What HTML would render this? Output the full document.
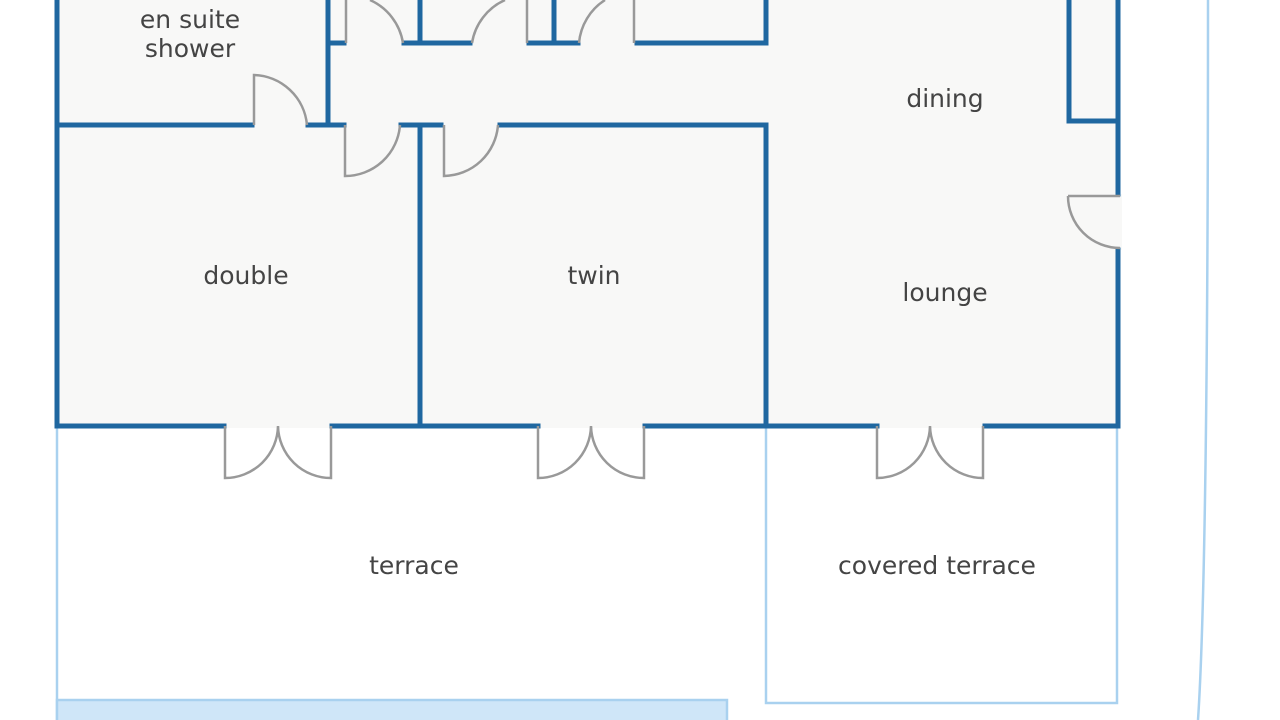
<!DOCTYPE html>
<html><head><meta charset="utf-8"><style>
html,body{margin:0;padding:0;background:#fff;}
svg{display:block;}
text{font-family:"DejaVu Sans","Liberation Sans",sans-serif;font-size:25px;fill:#444;text-anchor:middle;}
</style></head><body>
<svg width="1280" height="720" viewBox="0 0 1280 720" xmlns="http://www.w3.org/2000/svg">
<rect x="0" y="0" width="1280" height="720" fill="#fff"/>
<!-- house interior fill -->
<rect x="57" y="0" width="1061" height="428" fill="#f8f8f7"/>
<rect x="1118" y="194" width="4" height="56" fill="#f8f8f7"/>
<!-- terraces -->
<g fill="none" stroke="#a9d1ef" stroke-width="2.5">
<line x1="57" y1="428" x2="57" y2="720"/>
<polyline points="766,428 766,703 1117,703 1117,428"/>
<path d="M1208 0 C1208 300 1206 600 1198 720"/>
</g>
<rect x="57" y="700" width="670" height="22" fill="#cfe6f8" stroke="#a9d1ef" stroke-width="2.5"/>
<!-- walls -->
<g stroke="#1f67a0" stroke-width="5" fill="none" stroke-linecap="square">
<line x1="57" y1="0" x2="57" y2="426"/>
<line x1="57" y1="426" x2="224" y2="426"/>
<line x1="332" y1="426" x2="538" y2="426"/>
<line x1="645" y1="426" x2="877" y2="426"/>
<line x1="985" y1="426" x2="1118" y2="426"/>
<line x1="1118" y1="0" x2="1118" y2="194"/>
<line x1="1118" y1="250" x2="1118" y2="426"/>
<polyline points="1069,0 1069,121 1116,121"/>
<line x1="57" y1="125" x2="252" y2="125"/>
<line x1="308" y1="125" x2="344" y2="125"/>
<line x1="328" y1="0" x2="328" y2="125"/>
<line x1="328" y1="43" x2="344" y2="43"/>
<line x1="404" y1="43" x2="470" y2="43"/>
<line x1="420" y1="0" x2="420" y2="43"/>
<line x1="529" y1="43" x2="578" y2="43"/>
<line x1="554" y1="0" x2="554" y2="43"/>
<line x1="637" y1="43" x2="766" y2="43"/>
<line x1="766" y1="0" x2="766" y2="43"/>
<line x1="401" y1="125" x2="441" y2="125"/>
<line x1="420" y1="125" x2="420" y2="426"/>
<line x1="500" y1="125" x2="766" y2="125"/>
<line x1="766" y1="125" x2="766" y2="426"/>
</g>
<!-- doors -->
<g stroke="#999" stroke-width="2.5" fill="none">
<path d="M254 125 L254 75 A55 55 0 0 1 307 125"/>
<path d="M346 43 L346 0 M370 0 A57 57 0 0 1 403 43"/>
<path d="M527 43 L527 0 M472 43 A57 57 0 0 1 505 0"/>
<path d="M634 43 L634 0 M579 43 A57 57 0 0 1 605 0"/>
<path d="M345 125 L345 176 A55 55 0 0 0 400 125"/>
<path d="M444 125 L444 176 A55 55 0 0 0 498 125"/>
<path d="M1068 196 L1120 196 M1068 196 A52 52 0 0 0 1120 248"/>
<path d="M225 426 L225 478 A53 53 0 0 0 278 426 A53 53 0 0 0 331 478 L331 426"/>
<path d="M538 426 L538 478 A53 53 0 0 0 591 426 A53 53 0 0 0 644 478 L644 426"/>
<path d="M877 426 L877 478 A53 53 0 0 0 930 426 A53 53 0 0 0 983 478 L983 426"/>
</g>
<text x="190" y="28">en suite</text>
<text x="190" y="57">shower</text>
<text x="945" y="107">dining</text>
<text x="246" y="284">double</text>
<text x="594" y="284">twin</text>
<text x="945" y="301">lounge</text>
<text x="414" y="574">terrace</text>
<text x="937" y="574">covered terrace</text>
</svg>
</body></html>
